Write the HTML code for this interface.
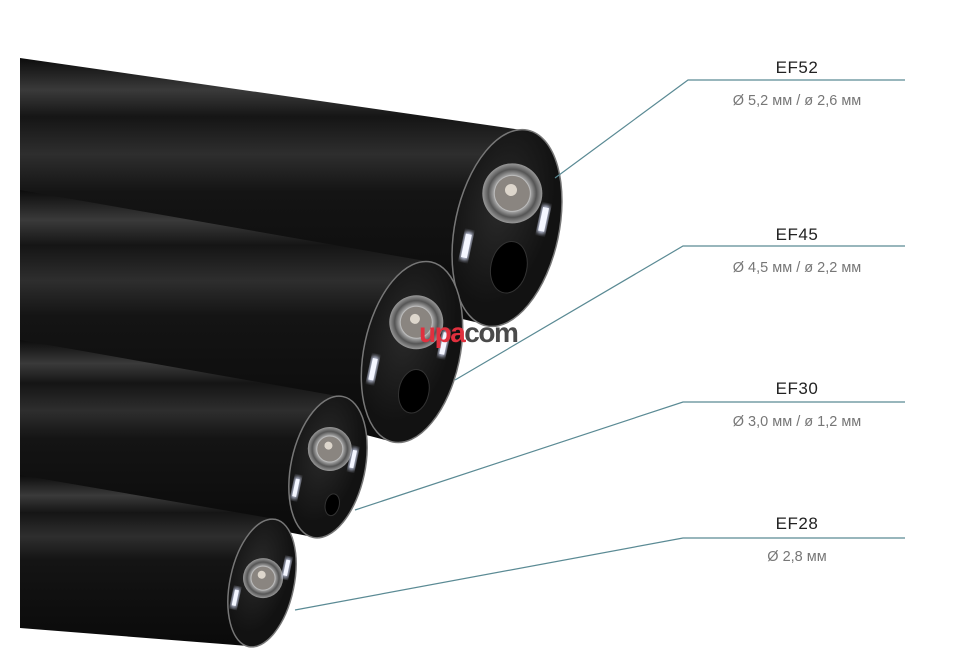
<!DOCTYPE html>
<html><head><meta charset="utf-8"><style>
html,body{margin:0;padding:0;background:#fff;width:953px;height:667px;overflow:hidden}
svg{display:block}
.t{font-family:"Liberation Sans",sans-serif;fill:#222;font-size:17px;text-anchor:middle;letter-spacing:0.5px}
.s{font-family:"Liberation Sans",sans-serif;fill:#777;font-size:14.5px;text-anchor:middle}
</style></head><body>
<svg width="953" height="667" viewBox="0 0 953 667">
<defs>
<linearGradient id="body" x1="0" y1="0" x2="0" y2="1">
<stop offset="0" stop-color="#0c0c0c"/><stop offset="0.12" stop-color="#3a3a3a"/><stop offset="0.22" stop-color="#151515"/><stop offset="0.36" stop-color="#2e2e2e"/><stop offset="0.5" stop-color="#141414"/><stop offset="1" stop-color="#0a0a0a"/>
</linearGradient>
<radialGradient id="lens"><stop offset="0" stop-color="#cfc8c0"/><stop offset="0.35" stop-color="#777"/><stop offset="0.6" stop-color="#aaa"/><stop offset="0.8" stop-color="#555"/><stop offset="1" stop-color="#999"/></radialGradient>
<radialGradient id="end" cx="0.4" cy="0.4"><stop offset="0" stop-color="#2a2a2a"/><stop offset="1" stop-color="#121212"/></radialGradient>
<filter id="glow"><feGaussianBlur stdDeviation="2"/></filter>
</defs>

<!-- Tube 1 -->
<polygon points="20,58 522,130 492,326 20,215" fill="url(#body)"/>
<g transform="translate(507,228) rotate(12)">
<ellipse rx="52" ry="100" fill="url(#end)" stroke="#777" stroke-width="1.5"/>
<circle cx="-2" cy="-35" r="30" fill="url(#lens)"/><circle cx="-2" cy="-35" r="18" fill="#8a8580" stroke="#bbb"/><circle cx="-4" cy="-38" r="6" fill="#ddd6cc"/>
<ellipse cx="10" cy="38" rx="18" ry="26" fill="#000" stroke="#333"/>
<rect x="30" y="-30" width="8" height="28" fill="#dde4ff" filter="url(#glow)"/><rect x="31" y="-28" width="6" height="24" fill="#f4f6ff"/>
<rect x="-40" y="12" width="8" height="28" fill="#dde4ff" filter="url(#glow)"/><rect x="-39" y="14" width="6" height="24" fill="#f4f6ff"/>
</g>

<!-- Tube 2 -->
<polygon points="20,190 431,262 393,442 20,345" fill="url(#body)"/>
<g transform="translate(412,352) rotate(12)">
<ellipse rx="48" ry="92" fill="url(#end)" stroke="#777" stroke-width="1.5"/>
<circle cx="-2" cy="-30" r="27" fill="url(#lens)"/><circle cx="-2" cy="-30" r="16" fill="#8a8580" stroke="#bbb"/><circle cx="-4" cy="-33" r="5" fill="#ddd6cc"/>
<ellipse cx="10" cy="38" rx="15" ry="22" fill="#000" stroke="#333"/>
<rect x="26" y="-28" width="7" height="26" fill="#dde4ff" filter="url(#glow)"/><rect x="27" y="-26" width="5" height="22" fill="#f4f6ff"/>
<rect x="-38" y="12" width="7" height="26" fill="#dde4ff" filter="url(#glow)"/><rect x="-37" y="14" width="5" height="22" fill="#f4f6ff"/>
</g>

<!-- Tube 3 -->
<polygon points="20,340 343,397 313,537 20,480" fill="url(#body)"/>
<g transform="translate(328,467) rotate(12)">
<ellipse rx="37" ry="72" fill="url(#end)" stroke="#777" stroke-width="1.5"/>
<circle cx="-2" cy="-18" r="22" fill="url(#lens)"/><circle cx="-2" cy="-18" r="13" fill="#8a8580" stroke="#bbb"/><circle cx="-4" cy="-21" r="4" fill="#ddd6cc"/>
<ellipse cx="12" cy="36" rx="7" ry="11" fill="#000" stroke="#333"/>
<rect x="20" y="-24" width="6" height="22" fill="#dde4ff" filter="url(#glow)"/><rect x="21" y="-22" width="4" height="18" fill="#f4f6ff"/>
<rect x="-30" y="16" width="6" height="22" fill="#dde4ff" filter="url(#glow)"/><rect x="-29" y="18" width="4" height="18" fill="#f4f6ff"/>
</g>

<!-- Tube 4 -->
<polygon points="20,475 275,519 248,646 20,628" fill="url(#body)"/>
<g transform="translate(262,583) rotate(12)">
<ellipse rx="32" ry="65" fill="url(#end)" stroke="#777" stroke-width="1.5"/>
<circle cx="0" cy="-5" r="20" fill="url(#lens)"/><circle cx="0" cy="-5" r="12" fill="#8a8580" stroke="#bbb"/><circle cx="-2" cy="-8" r="4" fill="#ddd6cc"/>
<rect x="18" y="-30" width="6" height="20" fill="#dde4ff" filter="url(#glow)"/><rect x="19" y="-28" width="4" height="16" fill="#f4f6ff"/>
<rect x="-26" y="10" width="6" height="20" fill="#dde4ff" filter="url(#glow)"/><rect x="-25" y="12" width="4" height="16" fill="#f4f6ff"/>
</g>

<!-- leader lines -->
<g stroke="#5a8a94" stroke-width="1.2" fill="none">
<polyline points="555,178 688,80 905,80"/>
<polyline points="455,380 683,246 905,246"/>
<polyline points="355,510 683,402 905,402"/>
<polyline points="295,610 683,538 905,538"/>
</g>

<text class="t" x="797" y="73">EF52</text><text class="s" x="797" y="105">Ø 5,2 мм / ø 2,6 мм</text>
<text class="t" x="797" y="240">EF45</text><text class="s" x="797" y="272">Ø 4,5 мм / ø 2,2 мм</text>
<text class="t" x="797" y="394">EF30</text><text class="s" x="797" y="426">Ø 3,0 мм / ø 1,2 мм</text>
<text class="t" x="797" y="529">EF28</text><text class="s" x="797" y="561">Ø 2,8 мм</text>

<text x="419" y="342" font-family="Liberation Sans,sans-serif" font-weight="bold" font-size="28" letter-spacing="-1.5"><tspan fill="#e0303e">upa</tspan><tspan fill="#4a4a4a">com</tspan></text>
</svg>
</body></html>
